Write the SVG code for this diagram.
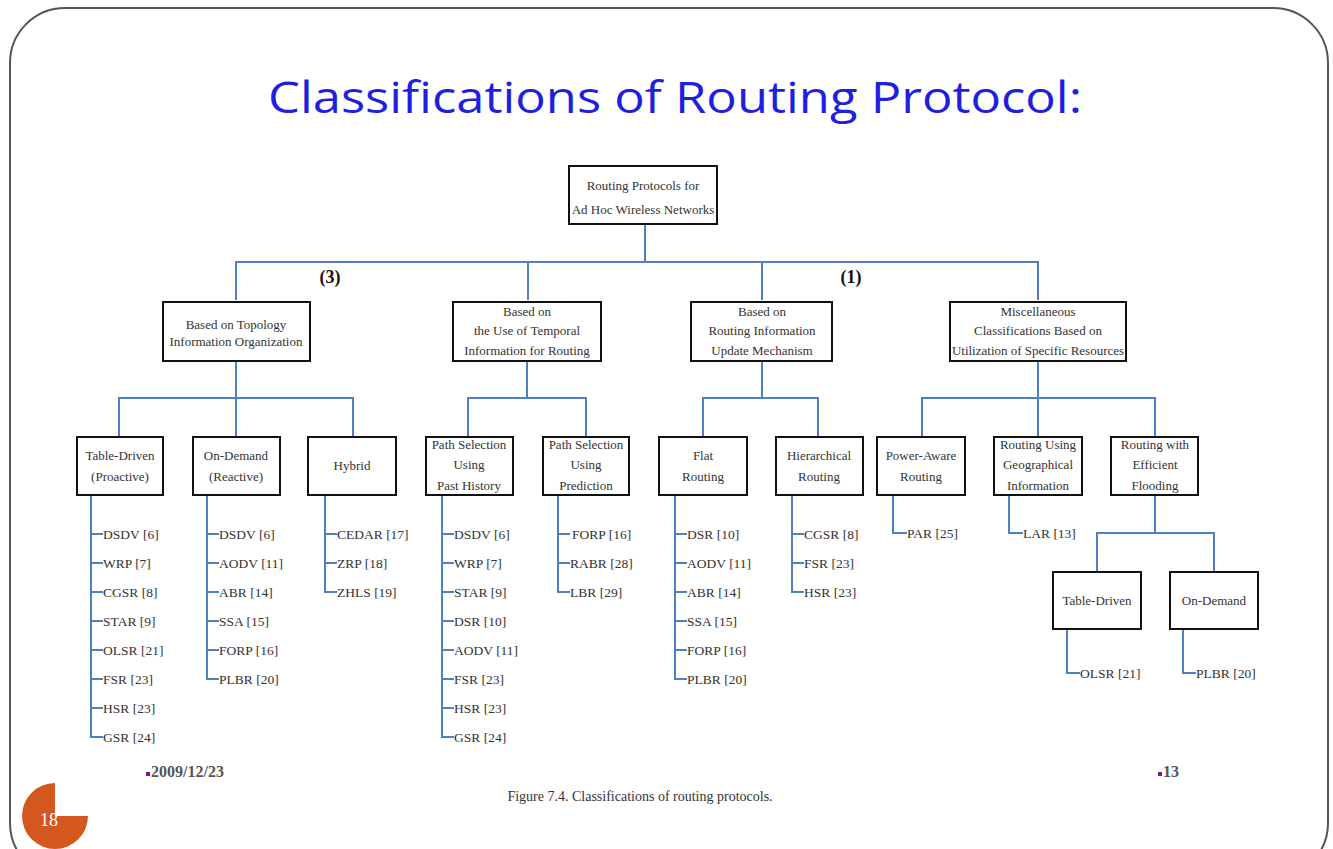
<svg xmlns="http://www.w3.org/2000/svg" width="1333" height="849" viewBox="0 0 1333 849">
<style>
.frame{fill:#fff;stroke:#555;stroke-width:2}
.title{font-family:"Open Sans","Liberation Sans",sans-serif;font-size:43px;fill:#1f1fe0}
.box{fill:#fff;stroke:#111;stroke-width:2}
.bt{font-family:"Liberation Serif",serif;font-size:13px;fill:#333;text-anchor:middle}
.lf{font-family:"Liberation Serif",serif;font-size:13.5px;fill:#333}
.ln{fill:none;stroke:#4f7fc4;stroke-width:2}
.num{font-family:"Liberation Serif",serif;font-size:18px;font-weight:bold;fill:#111;text-anchor:middle}
.foot{font-family:"Liberation Serif",serif;font-size:16px;font-weight:bold;fill:#555}
.cap{font-family:"Liberation Serif",serif;font-size:14px;fill:#333;text-anchor:middle}
</style>
<rect class="frame" x="10" y="8" width="1318" height="870" rx="55"/>
<text class="title" x="675" y="113" text-anchor="middle" textLength="814" lengthAdjust="spacingAndGlyphs">Classifications of Routing Protocol:</text>

<g id="connectors">
<path class="ln" d="M645,224V262 M236,300V262H1038V300 M528,262V300 M762,262V300"/>
<path class="ln" d="M236,361V398 M119,437V398H353V437 M236,398V437"/>
<path class="ln" d="M527,361V398 M468,437V398H586V437"/>
<path class="ln" d="M762,361V398 M703,437V398H818V437"/>
<path class="ln" d="M1038,361V398 M922,437V398H1155V437 M1038,398V437"/>
<path class="ln" d="M1155,495V533 M1097,572V533H1214V572"/>
<path class="ln" d="M91,495V737H103 M91,534H103 M91,563H103 M91,592H103 M91,621H103 M91,650H103 M91,679H103 M91,708H103"/>
<path class="ln" d="M207,495V679H219 M207,534H219 M207,563H219 M207,592H219 M207,621H219 M207,650H219"/>
<path class="ln" d="M325,495V592H337 M325,534H337 M325,563H337"/>
<path class="ln" d="M442,495V737H454 M442,534H454 M442,563H454 M442,592H454 M442,621H454 M442,650H454 M442,679H454 M442,708H454"/>
<path class="ln" d="M558,495V592H570 M558,534H570 M558,563H570"/>
<path class="ln" d="M675,495V679H687 M675,534H687 M675,563H687 M675,592H687 M675,621H687 M675,650H687"/>
<path class="ln" d="M792,495V592H804 M792,534H804 M792,563H804"/>
<path class="ln" d="M893,495V533H907"/>
<path class="ln" d="M1009,495V533H1023"/>
<path class="ln" d="M1067,629V673H1080"/>
<path class="ln" d="M1183,629V673H1196"/>
</g>

<text class="num" x="330" y="283">(3)</text>
<text class="num" x="851" y="283">(1)</text>

<g id="root"><rect class="box" x="569" y="166" width="148" height="58"/>
<text class="bt" x="643" y="190">Routing Protocols for</text><text class="bt" x="643" y="214">Ad Hoc Wireless Networks</text></g>

<g id="topology"><rect class="box" x="163" y="302" width="147" height="59"/>
<text class="bt" x="236" y="329">Based on Topology</text><text class="bt" x="236" y="346">Information Organization</text></g>
<g id="temporal"><rect class="box" x="453" y="302" width="148" height="59"/>
<text class="bt" x="527" y="316">Based on</text><text class="bt" x="527" y="335">the Use of Temporal</text><text class="bt" x="527" y="355">Information for Routing</text></g>
<g id="update"><rect class="box" x="691" y="302" width="141" height="59"/>
<text class="bt" x="762" y="316">Based on</text><text class="bt" x="762" y="335">Routing Information</text><text class="bt" x="762" y="355">Update Mechanism</text></g>
<g id="misc"><rect class="box" x="950" y="302" width="176" height="59"/>
<text class="bt" x="1038" y="316">Miscellaneous</text><text class="bt" x="1038" y="335">Classifications Based on</text><text class="bt" x="1038" y="355">Utilization of Specific Resources</text></g>

<g id="tabledriven"><rect class="box" x="77" y="437" width="86" height="58"/>
<text class="bt" x="120" y="460">Table-Driven</text><text class="bt" x="120" y="481">(Proactive)</text></g>
<g id="ondemand"><rect class="box" x="193" y="437" width="87" height="58"/>
<text class="bt" x="236" y="460">On-Demand</text><text class="bt" x="236" y="481">(Reactive)</text></g>
<g id="hybrid"><rect class="box" x="308" y="437" width="88" height="58"/>
<text class="bt" x="352" y="470">Hybrid</text></g>
<g id="pasthistory"><rect class="box" x="426" y="437" width="87" height="58"/>
<text class="bt" x="469" y="449">Path Selection</text><text class="bt" x="469" y="469">Using</text><text class="bt" x="469" y="490">Past History</text></g>
<g id="prediction"><rect class="box" x="543" y="437" width="86" height="58"/>
<text class="bt" x="586" y="449">Path Selection</text><text class="bt" x="586" y="469">Using</text><text class="bt" x="586" y="490">Prediction</text></g>
<g id="flat"><rect class="box" x="659" y="437" width="88" height="58"/>
<text class="bt" x="703" y="460">Flat</text><text class="bt" x="703" y="481">Routing</text></g>
<g id="hierarchical"><rect class="box" x="776" y="437" width="87" height="58"/>
<text class="bt" x="819" y="460">Hierarchical</text><text class="bt" x="819" y="481">Routing</text></g>
<g id="power"><rect class="box" x="877" y="437" width="88" height="58"/>
<text class="bt" x="921" y="460">Power-Aware</text><text class="bt" x="921" y="481">Routing</text></g>
<g id="geo"><rect class="box" x="994" y="437" width="88" height="58"/>
<text class="bt" x="1038" y="449">Routing Using</text><text class="bt" x="1038" y="469">Geographical</text><text class="bt" x="1038" y="490">Information</text></g>
<g id="flooding"><rect class="box" x="1111" y="437" width="87" height="58"/>
<text class="bt" x="1155" y="449">Routing with</text><text class="bt" x="1155" y="469">Efficient</text><text class="bt" x="1155" y="490">Flooding</text></g>
<g id="fl-table"><rect class="box" x="1053" y="572" width="88" height="57"/>
<text class="bt" x="1097" y="605">Table-Driven</text></g>
<g id="fl-demand"><rect class="box" x="1170" y="572" width="88" height="57"/>
<text class="bt" x="1214" y="605">On-Demand</text></g>

<g id="leaves-td" class="lf">
<text x="103" y="539">DSDV [6]</text><text x="103" y="568">WRP [7]</text><text x="103" y="597">CGSR [8]</text><text x="103" y="626">STAR [9]</text><text x="103" y="655">OLSR [21]</text><text x="103" y="684">FSR [23]</text><text x="103" y="713">HSR [23]</text><text x="103" y="742">GSR [24]</text></g>
<g id="leaves-od" class="lf">
<text x="219" y="539">DSDV [6]</text><text x="219" y="568">AODV [11]</text><text x="219" y="597">ABR [14]</text><text x="219" y="626">SSA [15]</text><text x="219" y="655">FORP [16]</text><text x="219" y="684">PLBR [20]</text></g>
<g id="leaves-hy" class="lf">
<text x="337" y="539">CEDAR [17]</text><text x="337" y="568">ZRP [18]</text><text x="337" y="597">ZHLS [19]</text></g>
<g id="leaves-ph" class="lf">
<text x="454" y="539">DSDV [6]</text><text x="454" y="568">WRP [7]</text><text x="454" y="597">STAR [9]</text><text x="454" y="626">DSR [10]</text><text x="454" y="655">AODV [11]</text><text x="454" y="684">FSR [23]</text><text x="454" y="713">HSR [23]</text><text x="454" y="742">GSR [24]</text></g>
<g id="leaves-pr" class="lf">
<text x="572" y="539">FORP [16]</text><text x="570" y="568">RABR [28]</text><text x="570" y="597">LBR [29]</text></g>
<g id="leaves-fl" class="lf">
<text x="687" y="539">DSR [10]</text><text x="687" y="568">AODV [11]</text><text x="687" y="597">ABR [14]</text><text x="687" y="626">SSA [15]</text><text x="687" y="655">FORP [16]</text><text x="687" y="684">PLBR [20]</text></g>
<g id="leaves-hi" class="lf">
<text x="804" y="539">CGSR [8]</text><text x="804" y="568">FSR [23]</text><text x="804" y="597">HSR [23]</text></g>
<g id="leaves-misc" class="lf">
<text x="907" y="538">PAR [25]</text><text x="1023" y="538">LAR [13]</text><text x="1080" y="678">OLSR [21]</text><text x="1196" y="678">PLBR [20]</text></g>

<rect x="146" y="772" width="4" height="4" fill="#7a1a8a"/>
<text class="foot" x="151" y="777">2009/12/23</text>
<rect x="1158" y="772" width="4" height="4" fill="#7a1a8a"/>
<text class="foot" x="1163" y="777">13</text>
<text class="cap" x="640" y="801">Figure 7.4. Classifications of routing protocols.</text>

<path d="M55,816 L88,816 A33,33 0 1 1 55,783 Z" fill="#d4581e"/>
<text x="40" y="826" font-family="Liberation Serif,serif" font-size="18" fill="#fff">18</text>
</svg>
